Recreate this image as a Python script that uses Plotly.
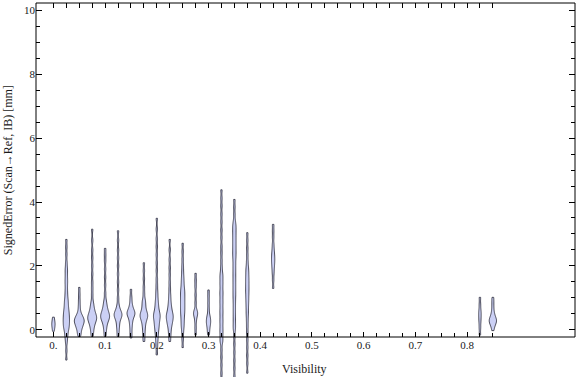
import numpy as np
import plotly.graph_objects as go

# ---------------- data ----------------
visibility = [0.0, 0.025, 0.05, 0.075, 0.1, 0.125, 0.15, 0.175, 0.2, 0.225,
              0.25, 0.275, 0.3, 0.325, 0.35, 0.375, 0.425, 0.825, 0.85]

err_000 = [-0.04, 0.1, 0.18, 0.26, 0.4]
err_025 = [2.83, 2.6, 2.36, 2.12, 1.95, 1.83, 1.7, 1.57, 1.46, 1.33, 1.2, 1.09, 0.98, 0.9,
           0.83, 0.75, 0.68, 0.62, 0.56, 0.51, 0.46, 0.41, 0.36, 0.31, 0.27, 0.22, 0.17, 0.12,
           0.07, 0.02, -0.06, -0.15, -0.25, -0.4, -0.65, -0.94]
err_050 = [1.33, 1.12, 0.92, 0.75, 0.61, 0.49, 0.45, 0.41, 0.37, 0.33, 0.3, 0.285, 0.27, 0.24,
           0.2, 0.16, 0.12, 0.08, 0.04, -0.05, -0.12, -0.2]
err_075 = [3.15, 2.8, 2.5, 2.25, 2.0, 1.75, 1.5, 1.3, 1.1, 0.9, 0.79, 0.71, 0.64, 0.58, 0.53,
           0.49, 0.45, 0.42, 0.39, 0.36, 0.33, 0.3, 0.26, 0.22, 0.16, 0.1, 0.02, -0.08, -0.2]
err_100 = [2.55, 2.35, 2.15, 1.9, 1.65, 1.4, 1.15, 0.95, 0.84, 0.76, 0.69, 0.63, 0.58, 0.54,
           0.5, 0.47, 0.44, 0.41, 0.38, 0.35, 0.31, 0.27, 0.21, 0.14, 0.05, -0.06, -0.2]
err_125 = [3.1, 2.8, 2.5, 2.25, 2.0, 1.75, 1.5, 1.25, 1.0, 0.8, 0.68, 0.61, 0.56, 0.52, 0.49,
           0.46, 0.43, 0.39, 0.34, 0.27, 0.17, 0.08, -0.05, -0.2]
err_150 = [1.27, 1.05, 0.9, 0.77, 0.69, 0.63, 0.58, 0.54, 0.52, 0.5, 0.46, 0.41, 0.35, 0.27,
           0.17, 0.05, -0.1, -0.25]
err_175 = [2.1, 1.85, 1.6, 1.35, 1.15, 0.97, 0.88, 0.8, 0.72, 0.64, 0.58, 0.53, 0.49, 0.46,
           0.43, 0.39, 0.35, 0.3, 0.23, 0.15, 0.05, -0.07, -0.2, -0.36]
err_200 = [3.49, 3.15, 2.85, 2.6, 2.35, 2.1, 1.85, 1.6, 1.4, 1.22, 1.08, 0.95, 0.85, 0.76,
           0.68, 0.61, 0.55, 0.5, 0.46, 0.42, 0.38, 0.33, 0.28, 0.22, 0.16, 0.1, 0.03, -0.05,
           -0.14, -0.25, -0.38, -0.55, -0.78]
err_225 = [2.83, 2.5, 2.2, 1.95, 1.72, 1.5, 1.3, 1.12, 0.98, 0.86, 0.76, 0.68, 0.61, 0.55,
           0.5, 0.46, 0.42, 0.38, 0.34, 0.29, 0.24, 0.18, 0.12, 0.03, -0.08, -0.2, -0.36]
err_250 = [2.71, 2.45, 2.22, 2.02, 1.85, 1.7, 1.58, 1.47, 1.37, 1.28, 1.21, 1.14, 1.07, 1.0,
           0.93, 0.86, 0.79, 0.72, 0.65, 0.58, 0.51, 0.43, 0.34, 0.25, 0.15, 0.05, -0.1, -0.3,
           -0.55]
err_275 = [1.77, 1.55, 1.35, 1.1, 0.85, 0.62, 0.55, 0.49, 0.43, 0.27, 0.06, -0.16]
err_300 = [1.25, 1.05, 0.85, 0.65, 0.47, 0.38, 0.31, 0.25, 0.18, 0.1, -0.02, -0.16]
err_325 = [4.38, 4.12, 3.88, 3.62, 3.38, 3.12, 2.88, 2.62, 2.4, 2.18, 1.98, 1.81, 1.7, 1.61,
           1.5, 1.41, 1.3, 1.19, 1.11, 1.0, 0.9, 0.81, 0.7, 0.6, 0.51, 0.4, 0.3, 0.21, 0.1,
           0.0, -0.09, -0.2, -0.31, -0.4, -0.62, -0.85, -1.1, -1.35, -1.6, -1.85, -2.1]
err_350 = [4.08, 3.85, 3.62, 3.42, 3.3, 3.22, 3.13, 3.04, 2.95, 2.86, 2.77, 2.68, 2.59, 2.5,
           2.41, 2.32, 2.23, 2.12, 2.01, 1.9, 1.79, 1.68, 1.57, 1.46, 1.35, 1.24, 1.13, 1.02,
           0.9, 0.77, 0.64, 0.51, 0.38, 0.25, 0.12, 0.0, -0.2, -0.45, -0.7, -0.95, -1.2,
           -1.45, -1.7, -1.95, -2.2]
err_375 = [3.04, 2.8, 2.56, 2.34, 2.14, 1.98, 1.87, 1.77, 1.67, 1.58, 1.49, 1.4, 1.31, 1.22,
           1.13, 1.03, 0.93, 0.82, 0.7, 0.57, 0.44, 0.28, 0.1, -0.1, -0.32, -0.55, -0.8,
           -1.05, -1.35]
err_425 = [3.3, 3.1, 2.9, 2.68, 2.52, 2.4, 2.3, 2.21, 2.12, 2.02, 1.9, 1.75, 1.55, 1.3]
err_825 = [1.02, 0.8, 0.62, 0.5, 0.38, 0.24, 0.06, -0.16]
err_850 = [1.02, 0.87, 0.72, 0.58, 0.48, 0.41, 0.36, 0.32, 0.29, 0.26, 0.22, 0.17, 0.1, -0.02]

samples = [err_000, err_025, err_050, err_075, err_100, err_125, err_150, err_175, err_200,
           err_225, err_250, err_275, err_300, err_325, err_350, err_375, err_425, err_825,
           err_850]

y_major = [0, 2, 4, 6, 8, 10]
x_major = [0.0, 0.1, 0.2, 0.3, 0.4, 0.5, 0.6, 0.7, 0.8]
x_labels = ["0.", "0.1", "0.2", "0.3", "0.4", "0.5", "0.6", "0.7", "0.8"]

# ---------------- style ----------------
BW = 0.09            # kernel bandwidth
PT = 0.0026          # drawn width (x units) of one isolated sample
FILL = "rgb(203,208,245)"
EDGE = "rgba(55,55,70,0.9)"
FONT = "Liberation Serif"

xmin, xmax = -0.0337, 1.0089
ymin, ymax = -1.47, 10.22
yframe = -0.22
frame_frac = (yframe - ymin) / (ymax - ymin)

x_minor = [round(v, 3) for v in np.arange(0, 0.8501, 0.025)]
y_minor = [round(v, 2) for v in np.arange(0, 10.01, 0.5)]

fig = go.Figure()
for pos, vals in zip(visibility, samples):
    v = np.asarray(vals, float)
    grid = np.linspace(v.min(), v.max(), 600)
    peak = np.exp(-0.5 * ((grid[:, None] - v[None, :]) / BW) ** 2).sum(axis=1).max()
    fig.add_trace(go.Violin(
        x0=pos, y=vals, width=PT * peak, bandwidth=BW, spanmode="hard",
        points=False, box_visible=False, meanline_visible=False,
        fillcolor=FILL, line=dict(color=EDGE, width=1), opacity=1,
        hoverinfo="skip", showlegend=False))

# empty helper trace so the top (mirror) tick axis is created
fig.add_trace(go.Scatter(x=[], y=[], xaxis="x2", yaxis="y", mode="markers",
                         hoverinfo="skip", showlegend=False))

fig.update_layout(
    width=576, height=377,
    margin=dict(l=36, r=1, t=3, b=0),
    plot_bgcolor="white", paper_bgcolor="white",
    violinmode="overlay", showlegend=False,
    font=dict(family=FONT, size=11, color="#1a1a1a"),
    xaxis=dict(range=[xmin, xmax], anchor="free", position=frame_frac,
               tickmode="array", tickvals=x_major, ticktext=x_labels,
               ticks="inside", ticklen=5, tickcolor="black", tickwidth=1,
               showgrid=False, zeroline=False, showline=False,
               minor=dict(tickmode="array", tickvals=x_minor, ticks="inside",
                          ticklen=4, tickcolor="black", tickwidth=1, showgrid=False)),
    xaxis2=dict(overlaying="x", matches="x", side="top", anchor="y",
                tickmode="array", tickvals=x_minor, ticks="inside", ticklen=5,
                tickcolor="black", tickwidth=1, showticklabels=False, showgrid=False,
                zeroline=False, showline=False),
    yaxis=dict(range=[ymin, ymax], tickmode="array", tickvals=y_major,
               ticks="inside", ticklen=6, tickcolor="black", tickwidth=1, mirror="ticks",
               showgrid=False, zeroline=False, showline=False,
               minor=dict(tickmode="array", tickvals=y_minor, ticks="inside",
                          ticklen=4, tickcolor="black", tickwidth=1, showgrid=False)),
    shapes=[dict(type="rect", xref="paper", yref="paper", x0=0, x1=1,
                 y0=frame_frac, y1=1, line=dict(color="black", width=1),
                 fillcolor="rgba(0,0,0,0)", layer="above")],
    annotations=[
        dict(text="Visibility", xref="paper", yref="paper", x=0.499, y=0.021,
             showarrow=False, font=dict(family=FONT, size=12, color="#1a1a1a"),
             xanchor="center", yanchor="middle"),
        dict(text="SignedError (Scan\u2192Ref, IB) [mm]", xref="paper", yref="paper",
             x=-0.052, y=0.553, textangle=-90, showarrow=False,
             font=dict(family=FONT, size=12, color="#1a1a1a"),
             xanchor="center", yanchor="middle"),
    ],
)

fig.write_html("out.html", config={"displayModeBar": False, "staticPlot": True},
               post_script="document.body.style.margin='0';document.body.style.padding='0';"
                           "document.body.style.overflow='hidden';")
